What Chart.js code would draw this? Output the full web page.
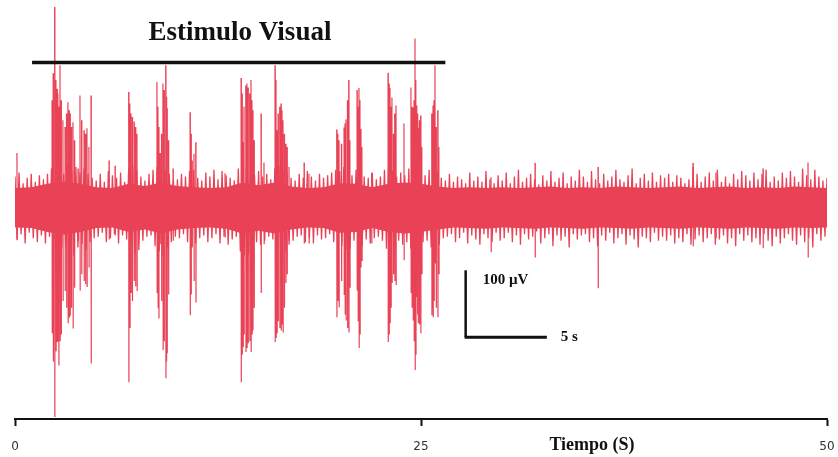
<!DOCTYPE html>
<html>
<head>
<meta charset="utf-8">
<script src="https://cdn.jsdelivr.net/npm/chart.js@4.4.1/dist/chart.umd.min.js"></script>
<style>
html, body { margin: 0; padding: 0; background: #fff; }
#wrap { width: 838px; height: 457px; position: relative; }
</style>
</head>
<body>
<div id="wrap"><canvas id="myChart"></canvas></div>
<script>
// noise trace, max / min per 0.25 s bin (uV)
var binSize = 0.25;
var bandHi = [
    46, 52, 36, 44, 50, 38, 48, 42, 50, 58, 62, 58, 50, 64, 55, 60, 52, 58, 50, 44,
    40, 50, 38, 54, 48, 44, 52, 38, 58, 62, 55, 46, 40, 50, 56, 60, 64, 55, 50, 42,
    42, 50, 46, 54, 56, 44, 40, 52, 46, 56, 42, 54, 48, 44, 40, 58, 64, 60, 56, 48,
    54, 46, 50, 42, 58, 62, 56, 52, 44, 40, 50, 44, 54, 46, 40, 50, 44, 48, 52, 56,
    54, 60, 58, 48, 56, 54, 46, 44, 52, 42, 46, 56, 60, 55, 46, 52, 48, 58, 62, 60,
    50, 48, 56, 60, 54, 44, 40, 50, 38, 46, 42, 36, 52, 40, 46, 38, 54, 42, 36, 48,
    40, 52, 36, 46, 56, 38, 44, 50, 42, 34, 48, 40, 54, 38, 44, 52, 36, 46, 40, 56,
    46, 38, 54, 42, 36, 50, 40, 46, 56, 42, 38, 48, 58, 36, 44, 50, 40, 52, 38, 48,
    44, 50, 38, 48, 44, 36, 42, 60, 50, 38, 46, 52, 40, 56, 38, 46, 36, 50, 42, 54,
    48, 40, 52, 42, 50, 56, 38, 46, 40, 52, 44, 54, 46, 38, 58, 48, 42, 56, 46, 40,
    44
];
var bandLo = [
    -48, -40, -54, -38, -46, -52, -42, -54, -44, -60, -70, -62, -58, -66, -72, -60, -55, -64, -52, -46,
    -44, -38, -52, -46, -40, -54, -42, -48, -62, -70, -64, -50, -44, -42, -58, -66, -72, -60, -52, -44,
    -46, -40, -52, -58, -54, -46, -42, -52, -46, -40, -54, -44, -56, -48, -44, -66, -72, -70, -62, -52,
    -56, -50, -44, -48, -64, -70, -66, -56, -50, -44, -42, -52, -46, -54, -42, -48, -46, -40, -52, -60,
    -58, -64, -62, -50, -60, -58, -48, -54, -46, -44, -50, -62, -66, -58, -50, -56, -52, -62, -70, -66,
    -52, -50, -60, -64, -56, -46, -44, -40, -52, -46, -38, -54, -42, -48, -56, -40, -46, -52, -38, -50,
    -46, -38, -52, -42, -56, -40, -48, -44, -36, -54, -46, -40, -58, -42, -50, -44, -60, -40, -48, -42,
    -40, -52, -46, -58, -42, -50, -38, -54, -46, -40, -56, -42, -48, -60, -44, -46, -52, -38, -50, -44,
    -50, -42, -54, -46, -52, -40, -56, -48, -42, -52, -46, -40, -56, -48, -42, -54, -46, -58, -40, -50,
    -42, -52, -46, -56, -40, -50, -58, -44, -54, -46, -40, -50, -56, -42, -52, -46, -60, -40, -50, -44,
    -46
];

// solid core of the band, one value per second (uV)
var coreHi = [
    29, 30, 35, 38, 35, 30, 29, 35, 32, 37, 32, 30, 29, 30, 37, 33, 37, 31, 29, 30,
    36, 35, 30, 35, 37, 35, 31, 29, 30, 29, 30, 29, 30, 31, 29, 30, 29, 31, 30, 29,
    30, 31, 29, 30, 31, 29, 30, 29, 31, 30, 29
];
var coreLo = [
    -30, -31, -37, -41, -37, -31, -30, -37, -33, -39, -33, -31, -30, -32, -39, -35, -39, -33, -30, -31,
    -38, -37, -31, -37, -39, -37, -33, -30, -31, -32, -30, -31, -32, -30, -31, -32, -30, -31, -32, -30,
    -31, -32, -30, -31, -32, -30, -31, -32, -30, -31, -30
];

// single spikes: time (s), peak, trough (uV)
var spikeT = [
    0.12, 2.28, 2.35, 2.44, 2.52, 2.59, 2.64, 2.69, 2.77, 2.84, 2.95, 3.08, 3.17, 3.26, 3.33, 3.39, 3.47,
    3.57, 3.66, 3.88, 4.00, 4.10, 4.25, 4.34, 4.43, 4.55, 4.68,
    5.79, 6.16, 7.00, 7.07, 7.14, 7.22, 7.33, 7.42, 7.51,
    8.74, 8.80, 8.85, 8.93, 9.02, 9.11, 9.18, 9.28, 9.32, 9.36, 9.45, 9.73,
    10.78, 10.84, 10.90, 11.02, 11.13, 12.93,
    13.92, 13.98, 14.04, 14.10, 14.21, 14.28, 14.35, 14.45, 14.53, 14.59, 14.64, 14.72,
    15.15, 15.33, 16.01, 16.07, 16.13, 16.20, 16.30, 16.38, 16.44, 16.50, 16.58, 16.67, 16.75, 16.87,
    17.80, 18.10,
    19.81, 19.88, 19.95, 20.10, 20.26, 20.32, 20.38, 20.47, 20.55, 20.62,
    21.06, 21.12, 21.18, 21.24, 21.29, 21.36, 21.96,
    22.97, 23.03, 23.09, 23.15, 23.21, 23.30, 23.38, 23.46, 23.95,
    24.38, 24.44, 24.51, 24.57, 24.63, 24.68, 24.74, 24.78, 24.82, 24.90, 24.98, 25.05,
    25.66, 25.70, 25.74, 25.80, 25.86, 25.93, 26.03, 26.10,
    29.31, 32.02, 35.90, 41.75, 43.16, 46.06, 48.83
];
var spikeHi = [
    81, 160, 200, 299, 190, 177, 170, 150, 212, 160, 130, 120, 140, 157, 145, 140, 120,
    127, 100, 58, 167, 130, 115, 110, 118, 90, 167,
    70, 62, 172, 155, 140, 135, 128, 120, 110,
    187, 150, 120, 81, 110, 185, 175, 212, 165, 148, 100, 58,
    142, 110, 70, 80, 97, 51,
    193, 170, 97, 150, 182, 185, 179, 170, 190, 160, 145, 100,
    140, 67, 212, 190, 115, 140, 150, 155, 145, 130, 110, 95, 90, 60,
    67, 50,
    116, 110, 100, 95, 119, 125, 131, 160, 190, 100,
    175, 150, 178, 160, 117, 90, 51,
    201, 185, 178, 150, 164, 110, 140, 152, 125,
    179, 150, 149, 160, 252, 190, 152, 140, 118, 130, 137, 90,
    140, 130, 152, 160, 212, 120, 145, 90,
    45, 66, 60, 66, 52, 58, 67
];
var spikeLo = [
    -49, -188, -230, -313, -215, -201, -200, -236, -200, -190, -140, -125, -150, -173, -165, -162, -150,
    -181, -120, -50, -124, -100, -110, -115, -119, -90, -233,
    -48, -42, -261, -180, -128, -140, -110, -118, -125,
    -128, -150, -166, -55, -140, -213, -200, -255, -230, -218, -130, -50,
    -161, -130, -60, -110, -142, -45,
    -261, -220, -209, -190, -216, -210, -203, -200, -216, -190, -184, -150,
    -128, -55, -201, -195, -188, -170, -180, -184, -175, -187, -150, -113, -100, -50,
    -54, -54,
    -164, -140, -149, -110, -131, -160, -169, -180, -187, -120,
    -124, -170, -210, -190, -90, -80, -54,
    -201, -190, -173, -150, -113, -100, -110, -116, -79,
    -128, -150, -169, -200, -243, -220, -134, -160, -173, -175, -188, -100,
    -161, -150, -164, -140, -84, -150, -164, -100,
    -67, -75, -121, -58, -46, -61, -75
];

var xTicks = [0, 25, 50];
var stimStart = 1.05, stimEnd = 26.5, stimLevel = 216;
var barT = 27.75, barV = -194, barDT = 5, barDV = 100;

var red = 'rgb(233, 66, 86)';

var upper = [], lower = [], trace = [], spikes = [];
for (let i = 0; i < coreHi.length; i++) {
    upper.push({ x: i, y: coreHi[i] });
    lower.push({ x: i, y: coreLo[i] });
}
for (let i = 0; i < bandHi.length; i++) {
    trace.push({ x: i * binSize, y: bandHi[i] });
    trace.push({ x: i * binSize + binSize / 2, y: bandLo[i] });
}
for (let i = 0; i < spikeT.length; i++) {
    spikes.push({ x: spikeT[i], y: spikeHi[i] });
    spikes.push({ x: spikeT[i] + 0.015, y: spikeLo[i] });
    spikes.push({ x: spikeT[i] + 0.015, y: null });
}

var serif = '"Liberation Serif", "Times New Roman", serif';

var annotations = {
    id: 'annotations',
    afterDatasetsDraw: function (chart) {
        var c = chart.ctx;
        var x = chart.scales.x, y = chart.scales.y;
        c.save();
        c.fillStyle = '#111';
        c.strokeStyle = '#111';
        c.textBaseline = 'alphabetic';

        // title + stimulus bar
        c.font = 'bold 27px ' + serif;
        c.textAlign = 'center';
        c.fillText('Estimulo Visual', 240, 40);
        c.lineWidth = 3.5;
        c.beginPath();
        c.moveTo(x.getPixelForValue(stimStart), y.getPixelForValue(stimLevel));
        c.lineTo(x.getPixelForValue(stimEnd), y.getPixelForValue(stimLevel));
        c.stroke();

        // scale bar
        var x0 = x.getPixelForValue(barT), y0 = y.getPixelForValue(barV);
        c.lineWidth = 2.5;
        c.beginPath();
        c.moveTo(x0, y.getPixelForValue(barV + barDV));
        c.lineTo(x0, y0);
        c.stroke();
        c.lineWidth = 3;
        c.beginPath();
        c.moveTo(x0 - 1, y0);
        c.lineTo(x.getPixelForValue(barT + barDT), y0);
        c.stroke();
        c.font = 'bold 15px ' + serif;
        c.textAlign = 'left';
        c.fillText('100 \u00B5V', x0 + 17, y.getPixelForValue(barV + barDV) + 14);
        c.fillText('5 s', x0 + 95, y0 + 4);

        // axis name
        c.font = 'bold 18px ' + serif;
        c.textAlign = 'center';
        c.fillText('Tiempo (S)', 592, 450);

        // tick labels
        c.fillStyle = '#333';
        c.font = '12px "DejaVu Sans", sans-serif';
        c.textBaseline = 'middle';
        xTicks.forEach(function (v) {
            c.fillText(String(v), x.getPixelForValue(v), 447);
        });
        c.restore();
    }
};

const ctx = document.getElementById('myChart');
const myChart = new Chart(ctx, {
    type: 'line',
    data: {
        datasets: [{
            data: upper,
            borderWidth: 0,
            pointRadius: 0,
            backgroundColor: red,
            fill: '+1'
        }, {
            data: lower,
            borderWidth: 0,
            pointRadius: 0,
            fill: false
        }, {
            data: trace,
            borderColor: red,
            borderWidth: 1.3,
            pointRadius: 0,
            fill: false
        }, {
            data: spikes,
            borderColor: red,
            borderWidth: 1.2,
            pointRadius: 0,
            spanGaps: false,
            fill: false
        }]
    },
    options: {
        responsive: true,
        maintainAspectRatio: false,
        animation: false,
        events: [],
        layout: {
            padding: { left: 15, right: 11, top: 3, bottom: 31 }
        },
        plugins: {
            legend: { display: false },
            tooltip: { enabled: false }
        },
        scales: {
            x: {
                type: 'linear',
                min: 0,
                max: 50,
                afterBuildTicks: function (axis) {
                    axis.ticks = xTicks.map(function (v) { return { value: v }; });
                },
                grid: {
                    drawOnChartArea: false,
                    drawTicks: true,
                    tickLength: 7,
                    tickWidth: 2,
                    color: '#111'
                },
                border: { display: true, color: '#111', width: 2 },
                ticks: { display: false }
            },
            y: {
                display: false,
                min: -316,
                max: 305
            }
        }
    },
    plugins: [annotations]
});
</script>
</body>
</html>
